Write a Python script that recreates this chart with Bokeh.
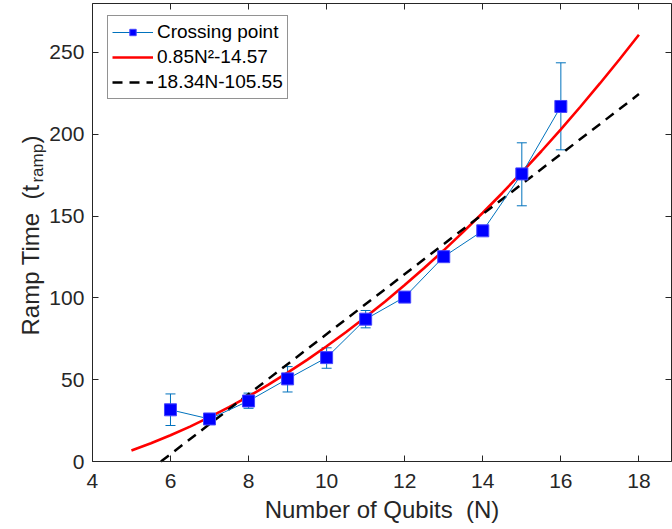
import numpy as np
from bokeh.plotting import figure
from bokeh.models import (ColumnDataSource, Whisker, TeeHead, Legend, LegendItem,
                          LinearAxis, Range1d, FixedTicker, CustomJSTickFormatter, Label)
from bokeh.embed import file_html
from bokeh.resources import INLINE

# ---- data ----
qubits = [6, 7, 8, 9, 10, 11, 12, 13, 14, 15, 16]
ramp_time = [31.6, 26.0, 37.0, 50.5, 63.5, 87.0, 100.5, 125.2, 141.0, 175.8, 217.0]
err_lower = [22.0, 24.0, 32.5, 42.5, 57.0, 81.7, 99.0, 124.0, 139.5, 156.3, 190.5]
err_upper = [41.3, 28.0, 41.8, 58.0, 69.5, 92.3, 102.0, 126.5, 142.5, 194.8, 243.7]

quad_fit_n = [5, 5.5, 6, 6.5, 7, 7.5, 8, 8.5, 9, 9.5, 10, 10.5, 11, 11.5, 12, 12.5,
              13, 13.5, 14, 14.5, 15, 15.5, 16, 16.5, 17, 17.5, 18]
quad_fit_t = [6.68, 11.14, 16.03, 21.34, 27.08, 33.24, 39.83, 46.84, 54.28, 62.14,
              70.43, 79.14, 88.28, 97.84, 107.83, 118.24, 129.08, 140.34, 152.03,
              164.14, 176.68, 189.64, 203.03, 216.84, 231.08, 245.74, 260.83]
lin_fit_n = [5.755, 18]
lin_fit_t = [0.0, 224.57]

x_ticks = [4, 6, 8, 10, 12, 14, 16, 18]
y_ticks = [0, 50, 100, 150, 200, 250]

X_MIN, X_MAX = 4, 18.84      # axis box
Y_MIN, Y_MAX = 0, 280

FONT = "Liberation Sans"
AX = "#262626"
BLUE_LINE = "#0072BD"

# the frame covers the whole canvas; the axes are drawn at fixed locations inside it
p = figure(width=672, height=529, x_range=Range1d(1.646, 18.86), y_range=Range1d(-41.56, 281.78),
           output_backend="svg", toolbar_location=None,
           min_border_left=0, min_border_right=0, min_border_top=0, min_border_bottom=0,
           background_fill_color="white", border_fill_color="white")
p.grid.visible = False
p.outline_line_color = None

for ax in (p.xaxis, p.yaxis):
    ax.minor_tick_in = 0
    ax.minor_tick_out = 0
    ax.major_tick_in = 6
    ax.major_tick_out = 0
    ax.axis_line_color = AX
    ax.major_tick_line_color = AX
    ax.major_label_text_color = AX
    ax.major_label_text_font = FONT
    ax.major_label_text_font_size = "21px"

p.xaxis.ticker = FixedTicker(ticks=x_ticks)
p.yaxis.ticker = FixedTicker(ticks=y_ticks)
p.xaxis.bounds = (X_MIN, X_MAX)
p.yaxis.bounds = (Y_MIN, Y_MAX)
p.xaxis.fixed_location = Y_MIN
p.yaxis.fixed_location = X_MIN
p.xaxis.major_label_standoff = 12
p.yaxis.major_label_standoff = 8
p.xaxis.axis_label = "Number of Qubits\u00a0 (N)"
p.xaxis.axis_label_text_font = FONT
p.xaxis.axis_label_text_font_size = "24px"
p.xaxis.axis_label_text_font_style = "normal"
p.xaxis.axis_label_text_color = AX
p.xaxis.axis_label_standoff = 5

def blank_axis(ticks, loc, bounds):
    return LinearAxis(ticker=FixedTicker(ticks=ticks),
                      formatter=CustomJSTickFormatter(code="return ''"),
                      major_tick_in=6, major_tick_out=0, minor_tick_in=0, minor_tick_out=0,
                      major_label_standoff=0, major_label_text_font_size="1px",
                      axis_line_color=AX, major_tick_line_color=AX,
                      fixed_location=loc, bounds=bounds)

p.add_layout(blank_axis(x_ticks, Y_MAX, (X_MIN, X_MAX)), "above")
p.add_layout(blank_axis(y_ticks, X_MAX, (Y_MIN, Y_MAX)), "right")

# y axis label with subscript (placed in data units, left of the axis)
lab_kw = dict(angle=np.pi / 2, text_font=FONT, text_color=AX,
              text_align="left", text_baseline="alphabetic")
p.add_layout(Label(x=2.414, y=77.0, text="Ramp Time\u00a0 (t", text_font_size="24px", **lab_kw))
p.add_layout(Label(x=2.593, y=170.5, text="ramp", text_font_size="17px", **lab_kw))
p.add_layout(Label(x=2.414, y=194.4, text=")", text_font_size="24px", **lab_kw))

# fits
r_quad = p.line(quad_fit_n, quad_fit_t, line_color="#FF0000", line_width=2.6)
r_lin = p.line(lin_fit_n, lin_fit_t, line_color="black", line_width=2.5, line_dash="10 7")

# data
src = ColumnDataSource(dict(n=qubits, t=ramp_time, lo=err_lower, hi=err_upper))
r_dl = p.line("n", "t", source=src, line_color=BLUE_LINE, line_width=1)
r_dm = p.scatter("n", "t", source=src, marker="square", size=12,
                 fill_color="#0000FF", line_color="#4646FF", line_width=1)
p.add_layout(Whisker(base="n", upper="hi", lower="lo", source=src, dimension="height",
                     line_color=BLUE_LINE, line_width=1,
                     upper_head=TeeHead(size=10, line_color=BLUE_LINE, line_width=1),
                     lower_head=TeeHead(size=10, line_color=BLUE_LINE, line_width=1)))

legend = Legend(items=[
    LegendItem(label="Crossing point", renderers=[r_dl, r_dm]),
    LegendItem(label="0.85N\u00b2-14.57", renderers=[r_quad]),
    LegendItem(label="18.34N-105.55", renderers=[r_lin]),
], location=(107, 430), padding=4, spacing=1,
   label_height=24, glyph_height=16, glyph_width=41, label_standoff=4,
   label_text_font=FONT, label_text_font_size="19px", label_text_color="black",
   border_line_color=AX, border_line_width=1, background_fill_color="white",
   background_fill_alpha=1.0)
p.add_layout(legend, "center")

open("out.html", "w").write(file_html(p, INLINE))
